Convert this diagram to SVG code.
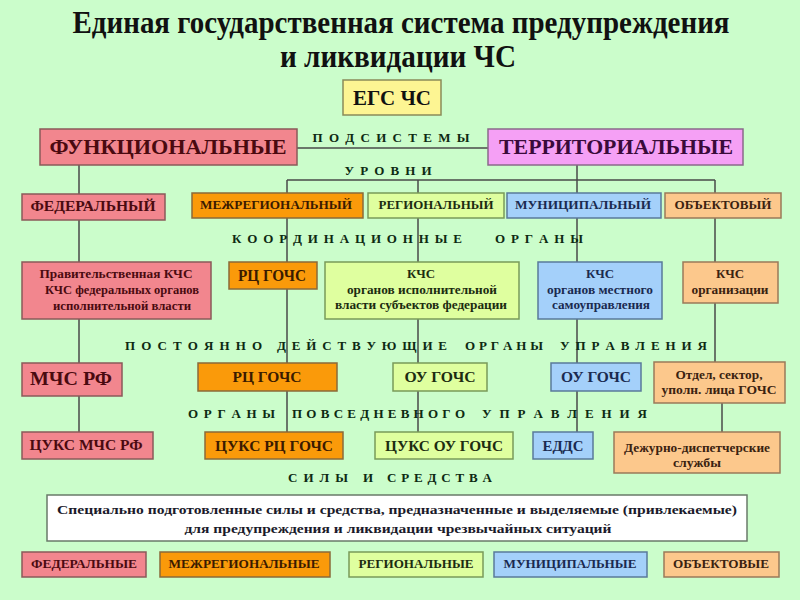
<svg xmlns="http://www.w3.org/2000/svg" width="800" height="600" viewBox="0 0 800 600">
<style>
text{font-family:"Liberation Serif","Times New Roman",serif;font-weight:bold;text-anchor:middle}
.bx{stroke-width:1.5}
.pink{fill:#f2868e;stroke:#8a5a5a}
.mag{fill:#f5a0f5;stroke:#8a6a8a}
.org{fill:#fa9a0a;stroke:#8a6a3a}
.grn{fill:#dfff9f;stroke:#7a9a5a}
.blu{fill:#a4d0fa;stroke:#5a7a9a}
.lor{fill:#fcc88c;stroke:#9a7a5a}
.yel{fill:#fdf593;stroke:#8a8a5a}
.wht{fill:#ffffff;stroke:#6a7a6a}
.tp{fill:#4a0a10}.tm{fill:#3a0a3a}.to{fill:#3a1a00}.tg{fill:#1c2c10}.tb{fill:#1a2a50}.tl{fill:#3a2210}.tk{fill:#111}
.lbl{fill:#0d2a12;font-size:13px}
.ln{stroke:#4a4a4a;stroke-width:1.5;fill:none}
</style>
<rect width="800" height="600" fill="#cbfdcb"/>
<g id="title">
<text x="401" y="33" font-size="31" textLength="657" lengthAdjust="spacingAndGlyphs" class="tk">Единая государственная система предупреждения</text>
<text x="398" y="67" font-size="31" textLength="236" lengthAdjust="spacingAndGlyphs" class="tk">и ликвидации ЧС</text>
</g>
<g id="connectors">
<path class="ln" d="M297 148H488"/>
<path class="ln" d="M79 165V194M79 220V262M79 319V363M79 396V432"/>
<path class="ln" d="M577 165V180M287 180H715"/>
<path class="ln" d="M287 180V193M287 218V262M287 289V363M287 391V432"/>
<path class="ln" d="M418 180V193M418 218V262M418 319V363M418 391V432"/>
<path class="ln" d="M577 180V193M577 218V262M577 319V363M577 391V432"/>
<path class="ln" d="M715 180V193M715 218V262M715 303V362"/>
<path class="ln" d="M722 403V432"/>
</g>
<g id="labels">
<text class="lbl" x="391" y="142" textLength="157" lengthAdjust="spacing">П О Д С И С Т Е М Ы</text>
<text class="lbl" x="388" y="175" textLength="87" lengthAdjust="spacing">У Р О В Н И</text>
<text class="lbl" x="347" y="243" textLength="230" lengthAdjust="spacing">К О О Р Д И Н А Ц И О Н Н Ы Е</text>
<text class="lbl" x="539" y="243" textLength="88" lengthAdjust="spacing">О Р Г А Н Ы</text>
<text class="lbl" x="193.5" y="350" textLength="137" lengthAdjust="spacing">П О С Т О Я Н Н О</text>
<text class="lbl" x="362" y="350" textLength="170" lengthAdjust="spacing">Д Е Й С Т В У Ю Щ И Е</text>
<text class="lbl" x="504" y="350" textLength="78" lengthAdjust="spacing">О Р Г А Н Ы</text>
<text class="lbl" x="633.5" y="350" textLength="147" lengthAdjust="spacing">У П Р А В Л Е Н И Я</text>
<text class="lbl" x="231.5" y="418" textLength="87" lengthAdjust="spacing">О Р Г А Н Ы</text>
<text class="lbl" x="378.5" y="418" textLength="173" lengthAdjust="spacing">П О В С Е Д Н Е В Н О Г О</text>
<text class="lbl" x="564.5" y="418" textLength="165" lengthAdjust="spacing">У П Р А В Л Е Н И Я</text>
<text class="lbl" x="318" y="482" textLength="60" lengthAdjust="spacing">С И Л Ы</text>
<text class="lbl" x="368" y="482">И</text>
<text class="lbl" x="439.5" y="482" textLength="105" lengthAdjust="spacing">С Р Е Д С Т В А</text>
</g>
<g id="egs"><rect class="bx yel" x="343" y="80" width="98" height="35"/><text class="tk" x="392" y="105" font-size="20" textLength="78" lengthAdjust="spacingAndGlyphs">ЕГС ЧС</text></g>
<g id="func"><rect class="bx pink" x="40" y="129" width="257" height="36"/><text class="tp" x="168" y="154" font-size="21" textLength="237" lengthAdjust="spacingAndGlyphs">ФУНКЦИОНАЛЬНЫЕ</text></g>
<g id="terr"><rect class="bx mag" x="488" y="129" width="255" height="36"/><text class="tm" x="616" y="154" font-size="21" textLength="234" lengthAdjust="spacingAndGlyphs">ТЕРРИТОРИАЛЬНЫЕ</text></g>
<g id="lvl-fed"><rect class="bx pink" x="22" y="194" width="143" height="26"/><text class="tp" x="93" y="211" font-size="14" textLength="125" lengthAdjust="spacingAndGlyphs">ФЕДЕРАЛЬНЫЙ</text></g>
<g id="lvl-mezh"><rect class="bx org" x="192" y="193" width="171" height="25"/><text class="to" x="276" y="209" font-size="12" textLength="152" lengthAdjust="spacingAndGlyphs">МЕЖРЕГИОНАЛЬНЫЙ</text></g>
<g id="lvl-reg"><rect class="bx grn" x="368" y="193" width="136" height="25"/><text class="tg" x="436" y="209" font-size="12" textLength="115" lengthAdjust="spacingAndGlyphs">РЕГИОНАЛЬНЫЙ</text></g>
<g id="lvl-mun"><rect class="bx blu" x="507" y="193" width="154" height="25"/><text class="tb" x="583" y="209" font-size="12" textLength="136" lengthAdjust="spacingAndGlyphs">МУНИЦИПАЛЬНЫЙ</text></g>
<g id="lvl-obj"><rect class="bx lor" x="665" y="193" width="116" height="25"/><text class="tl" x="723" y="209" font-size="12" textLength="97" lengthAdjust="spacingAndGlyphs">ОБЪЕКТОВЫЙ</text></g>
<g id="kchs-fed"><rect class="bx pink" x="22" y="262" width="189" height="57"/>
<text class="tp" font-size="12" x="116" y="278" textLength="153" lengthAdjust="spacingAndGlyphs">Правительственная КЧС</text>
<text class="tp" font-size="12" x="122" y="294" textLength="154" lengthAdjust="spacingAndGlyphs">КЧС федеральных органов</text>
<text class="tp" font-size="12" x="122" y="310" textLength="138" lengthAdjust="spacingAndGlyphs">исполнительной власти</text></g>
<g id="rc-coord"><rect class="bx org" x="229" y="262" width="88" height="27"/><text class="to" x="272" y="281" font-size="17" textLength="68" lengthAdjust="spacingAndGlyphs">РЦ ГОЧС</text></g>
<g id="kchs-reg"><rect class="bx grn" x="325" y="262" width="194" height="57"/>
<text class="tg" font-size="12" x="421" y="278" textLength="28" lengthAdjust="spacingAndGlyphs">КЧС</text>
<text class="tg" font-size="12" x="422" y="294" textLength="150" lengthAdjust="spacingAndGlyphs">органов исполнительной</text>
<text class="tg" font-size="12" x="421" y="309" textLength="172" lengthAdjust="spacingAndGlyphs">власти субъектов федерации</text></g>
<g id="kchs-mun"><rect class="bx blu" x="538" y="262" width="124" height="57"/>
<text class="tb" font-size="12" x="600" y="278" textLength="28" lengthAdjust="spacingAndGlyphs">КЧС</text>
<text class="tb" font-size="12" x="600" y="294" textLength="106" lengthAdjust="spacingAndGlyphs">органов местного</text>
<text class="tb" font-size="12" x="601" y="309" textLength="98" lengthAdjust="spacingAndGlyphs">самоуправления</text></g>
<g id="kchs-obj"><rect class="bx lor" x="683" y="262" width="95" height="41"/>
<text class="tl" font-size="12" x="730" y="278" textLength="28" lengthAdjust="spacingAndGlyphs">КЧС</text>
<text class="tl" font-size="12" x="730" y="294" textLength="77" lengthAdjust="spacingAndGlyphs">организации</text></g>
<g id="mchs"><rect class="bx pink" x="22" y="363" width="100" height="33"/><text class="tp" x="71" y="385" font-size="19" textLength="82" lengthAdjust="spacingAndGlyphs">МЧС РФ</text></g>
<g id="rc-perm"><rect class="bx org" x="198" y="363" width="139" height="28"/><text class="to" x="267" y="382" font-size="15" textLength="69" lengthAdjust="spacingAndGlyphs">РЦ ГОЧС</text></g>
<g id="ou-reg"><rect class="bx grn" x="393" y="363" width="94" height="28"/><text class="tg" x="440" y="382" font-size="15" textLength="71" lengthAdjust="spacingAndGlyphs">ОУ ГОЧС</text></g>
<g id="ou-mun"><rect class="bx blu" x="551" y="363" width="90" height="28"/><text class="tb" x="596" y="382" font-size="15" textLength="70" lengthAdjust="spacingAndGlyphs">ОУ ГОЧС</text></g>
<g id="otdel"><rect class="bx lor" x="654" y="362" width="131" height="41"/>
<text class="tl" font-size="12" x="719" y="379" textLength="87" lengthAdjust="spacingAndGlyphs">Отдел, сектор,</text>
<text class="tl" font-size="12" x="719" y="394" textLength="115" lengthAdjust="spacingAndGlyphs">уполн. лица ГОЧС</text></g>
<g id="tsuks-mchs"><rect class="bx pink" x="22" y="432" width="131" height="27"/><text class="tp" x="86" y="450" font-size="14" textLength="113" lengthAdjust="spacingAndGlyphs">ЦУКС МЧС РФ</text></g>
<g id="tsuks-rc"><rect class="bx org" x="205" y="432" width="138" height="27"/><text class="to" x="274" y="451" font-size="15" textLength="118" lengthAdjust="spacingAndGlyphs">ЦУКС РЦ ГОЧС</text></g>
<g id="tsuks-ou"><rect class="bx grn" x="375" y="432" width="138" height="27"/><text class="tg" x="444" y="451" font-size="15" textLength="118" lengthAdjust="spacingAndGlyphs">ЦУКС ОУ ГОЧС</text></g>
<g id="edds"><rect class="bx blu" x="533" y="432" width="60" height="27"/><text class="tb" x="563" y="451" font-size="15" textLength="41" lengthAdjust="spacingAndGlyphs">ЕДДС</text></g>
<g id="dds"><rect class="bx lor" x="614" y="432" width="166" height="41"/>
<text class="tl" font-size="12" x="697" y="452" textLength="146" lengthAdjust="spacingAndGlyphs">Дежурно-диспетчерские</text>
<text class="tl" font-size="12" x="697" y="467" textLength="48" lengthAdjust="spacingAndGlyphs">службы</text></g>
<g id="forces"><rect class="bx wht" x="47" y="495" width="700" height="46"/>
<text fill="#1a1a2a" font-size="13" x="397" y="514" textLength="680" lengthAdjust="spacingAndGlyphs">Специально подготовленные силы и средства, предназначенные и выделяемые (привлекаемые)</text>
<text fill="#1a1a2a" font-size="13" x="398" y="533" textLength="427" lengthAdjust="spacingAndGlyphs">для предупреждения и ликвидации чрезвычайных ситуаций</text></g>
<g id="f-fed"><rect class="bx pink" x="22" y="552" width="124" height="25"/><text class="tp" x="84" y="568" font-size="12" textLength="106" lengthAdjust="spacingAndGlyphs">ФЕДЕРАЛЬНЫЕ</text></g>
<g id="f-mezh"><rect class="bx org" x="160" y="552" width="170" height="25"/><text class="to" x="244" y="568" font-size="12" textLength="151" lengthAdjust="spacingAndGlyphs">МЕЖРЕГИОНАЛЬНЫЕ</text></g>
<g id="f-reg"><rect class="bx grn" x="349" y="552" width="134" height="25"/><text class="tg" x="416" y="568" font-size="12" textLength="115" lengthAdjust="spacingAndGlyphs">РЕГИОНАЛЬНЫЕ</text></g>
<g id="f-mun"><rect class="bx blu" x="494" y="552" width="153" height="25"/><text class="tb" x="570" y="568" font-size="12" textLength="133" lengthAdjust="spacingAndGlyphs">МУНИЦИПАЛЬНЫЕ</text></g>
<g id="f-obj"><rect class="bx lor" x="664" y="552" width="115" height="25"/><text class="tl" x="721" y="568" font-size="12" textLength="96" lengthAdjust="spacingAndGlyphs">ОБЪЕКТОВЫЕ</text></g>
</svg>
